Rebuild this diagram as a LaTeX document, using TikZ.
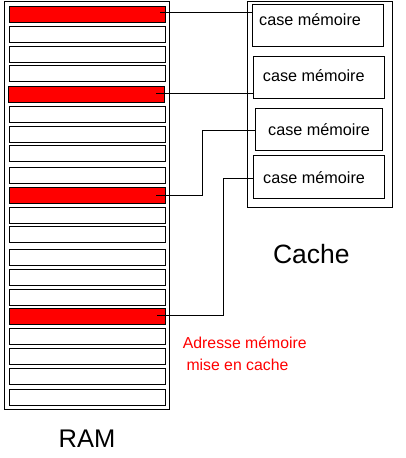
\documentclass[tikz,border=0pt]{standalone}
\usepackage{fontspec}
\setmainfont{Liberation Sans}

\tikzset{
  ramcell/.style={draw, line width=1pt, fill=white, minimum width=156pt, minimum height=16pt, inner sep=0pt},
  hitcell/.style={ramcell, fill=red},
  cachecell/.style={draw, line width=1pt, minimum height=42pt, inner sep=0pt},
  txt/.style={anchor=base west, inner sep=0pt, font=\fontsize{16.2}{19}\selectfont},
  link/.style={line width=1pt},
}

\begin{document}
\begin{tikzpicture}[x=1pt, y=-1pt]
  \useasboundingbox (0,0) rectangle (406,458);

  %%%%% RAM %%%%%
  \draw[line width=1pt] (4,1) rectangle (169,409);
  \foreach \i/\y in {1/34.3, 2/54.5, 3/73.3, 5/114.3, 6/134.3, 7/153.2, 8/175.3,
                     10/215.3, 11/234.2, 12/257.3, 13/277.3, 14/297.3,
                     16/336.3, 17/356.3, 18/376.3, 19/397.3}
    \node[ramcell] (m\i) at (87,\y) {};
  \node[hitcell] (m0) at (87,14.3) {};
  \node[hitcell] (m4) at (86.5,94.3) {};
  \node[hitcell] (m9) at (87,195.3) {};
  \node[hitcell] (m15) at (87,316.5) {};

  \node[anchor=base west, inner sep=0pt, font=\fontsize{25.5}{30}\selectfont] (ram) at (58.5,447.3) {RAM};

  %%%%% CACHE %%%%%
  \draw[line width=1pt] (247,1) rectangle (392,207);
  \node[cachecell, minimum width=131pt] (c1) at (318.3,25.5) {};
  \node[cachecell, minimum width=131pt] (c2) at (318.7,77.8) {};
  \node[cachecell, minimum width=127pt] (c3) at (319.3,129.3) {};
  \node[cachecell, minimum width=131pt, minimum height=43pt] (c4) at (318.8,176.8) {};

  \node[txt] (t1) at (259,25) {case mémoire};
  \node[txt] (t2) at (262.7,81.7) {case mémoire};
  \node[txt] (t3) at (268,135) {case mémoire};
  \node[txt] (t4) at (263,183.3) {case mémoire};

  \node[anchor=base west, inner sep=0pt, font=\fontsize{26.5}{31}\selectfont] (cache) at (272.8,263.3) {Cache};

  %%%%% LINKS %%%%%
  \coordinate (p1) at (160,12);
  \coordinate (p2) at (156,93.3);
  \coordinate (p3) at (156,195);
  \coordinate (q3) at (202.3,130.7);
  \coordinate (p4) at (157,315);
  \coordinate (q4) at (223.3,178.3);
  \draw[link] (p1) -- (p1 -| c1.west);
  \draw[link] (p2) -- (p2 -| c2.west);
  \draw[link] (p3) -| (q3) -- (q3 -| c3.west);
  \draw[link] (p4) -| (q4) -- (q4 -| c4.west);

  \node[txt, text=red, font=\fontsize{15.8}{19}\selectfont] (addr1) at (182.7,348.3) {Adresse mémoire};
  \node[txt, text=red, font=\fontsize{15.8}{19}\selectfont] (addr2) at (186.3,370) {mise en cache};
\end{tikzpicture}
\end{document}
